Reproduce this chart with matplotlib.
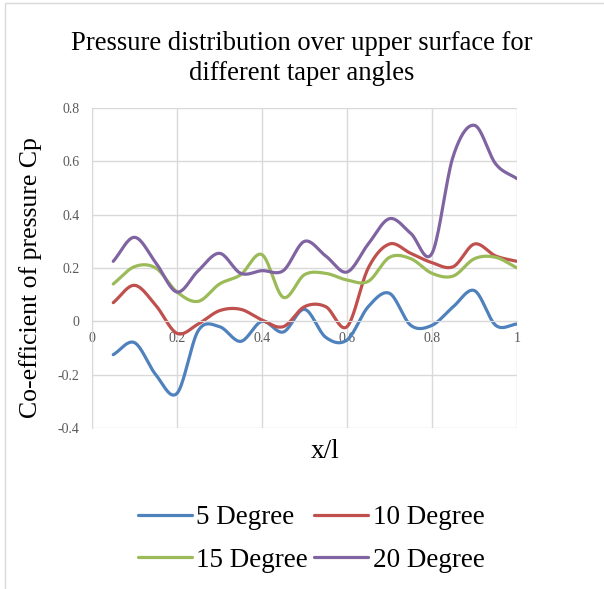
import numpy as np
import matplotlib
matplotlib.use("Agg")
import matplotlib.pyplot as plt
from matplotlib.patches import Rectangle

x = [0.05, 0.1, 0.15, 0.2, 0.25, 0.3, 0.35, 0.4, 0.45, 0.5,
     0.55, 0.6, 0.65, 0.7, 0.75, 0.8, 0.85, 0.9, 0.95, 1.0]
cp_5 = [-0.125, -0.08, -0.2, -0.27, -0.035, -0.02, -0.075, 0.0, -0.04, 0.045,
        -0.06, -0.07, 0.055, 0.105, -0.015, -0.015, 0.055, 0.115, -0.015, -0.01]
cp_10 = [0.07, 0.135, 0.06, -0.045, -0.01, 0.04, 0.045, 0.005, -0.02, 0.055,
         0.055, -0.02, 0.2, 0.29, 0.255, 0.22, 0.205, 0.29, 0.245, 0.225]
cp_15 = [0.14, 0.205, 0.2, 0.11, 0.075, 0.14, 0.175, 0.25, 0.09, 0.175,
         0.18, 0.155, 0.15, 0.24, 0.235, 0.18, 0.17, 0.235, 0.24, 0.2]
cp_20 = [0.225, 0.315, 0.22, 0.11, 0.19, 0.255, 0.18, 0.19, 0.19, 0.3,
         0.245, 0.185, 0.29, 0.385, 0.33, 0.255, 0.62, 0.735, 0.59, 0.535]
labels = ["5 Degree", "10 Degree", "15 Degree", "20 Degree"]
colors = ["#4F81BD", "#C0504D", "#9BBB59", "#8064A2"]
title = "Pressure distribution over upper surface for\ndifferent taper angles"
xticks = [0, 0.2, 0.4, 0.6, 0.8, 1]
yticks = [-0.4, -0.2, 0, 0.2, 0.4, 0.6, 0.8]


def smooth(xs, ys, n=20):
    """Catmull-Rom rendering of a smoothed line (like Excel's smoothed lines)."""
    xs = np.asarray(xs, float)
    ys = np.asarray(ys, float)
    px = np.concatenate([[2 * xs[0] - xs[1]], xs, [2 * xs[-1] - xs[-2]]])
    py = np.concatenate([[2 * ys[0] - ys[1]], ys, [2 * ys[-1] - ys[-2]]])
    ox, oy = [], []
    t = np.linspace(0, 1, n, endpoint=False)
    for i in range(1, len(px) - 2):
        p0x, p1x, p2x, p3x = px[i - 1:i + 3]
        p0y, p1y, p2y, p3y = py[i - 1:i + 3]
        t2, t3 = t * t, t * t * t
        ox.extend(0.5 * (2 * p1x + (-p0x + p2x) * t + (2 * p0x - 5 * p1x + 4 * p2x - p3x) * t2
                         + (-p0x + 3 * p1x - 3 * p2x + p3x) * t3))
        oy.extend(0.5 * (2 * p1y + (-p0y + p2y) * t + (2 * p0y - 5 * p1y + 4 * p2y - p3y) * t2
                         + (-p0y + 3 * p1y - 3 * p2y + p3y) * t3))
    ox.append(xs[-1])
    oy.append(ys[-1])
    return np.array(ox), np.array(oy)


serif = ["Liberation Serif", "DejaVu Serif"]
fig = plt.figure(figsize=(6.04, 5.89), dpi=100)
fig.patches.append(Rectangle((5 / 604, -0.1), 1.2, 1 - 3 / 589 + 0.1, transform=fig.transFigure,
                             fill=False, edgecolor="#D9D9D9", linewidth=1.0))
ax = fig.add_axes([92 / 604, 1 - 428 / 589, (517 - 92) / 604, (428 - 108) / 589])

series = [cp_5, cp_10, cp_15, cp_20]
handles = []
for ys, lab, c in zip(series, labels, colors):
    sx, sy = smooth(x, ys)
    h, = ax.plot(sx, sy, color=c, linewidth=2.3, label=lab, solid_capstyle="round")
    handles.append(h)

ax.set_xlim(0, 1)
ax.set_ylim(-0.4, 0.8)
ax.set_xticks(xticks)
ax.set_xticklabels([f"{v:g}" for v in xticks])
ax.set_yticks(yticks)
ax.set_yticklabels([f"{v:g}" for v in yticks])
ax.grid(True, color="#D9D9D9", linewidth=1.0)
ax.set_axisbelow(True)
for s in ["top", "right"]:
    ax.spines[s].set_visible(False)
ax.spines["left"].set_color("#D9D9D9")
ax.spines["bottom"].set_color("#D9D9D9")
ax.spines["bottom"].set_position(("data", 0))
ax.tick_params(axis="both", length=0, labelcolor="#595959", labelsize=10)
ax.tick_params(axis="x", pad=8)
ax.tick_params(axis="y", pad=9)
for t in ax.get_xticklabels() + ax.get_yticklabels():
    t.set_fontfamily(serif)

fig.text(0.5, 1 - 58.5 / 589, title, ha="center", va="center", fontsize=19.2,
         family=serif, linespacing=1.25)
fig.text(325 / 604, 1 - 452 / 589, "x/l", ha="center", va="center", fontsize=19.5, family=serif)
fig.text(31 / 604, 1 - 278 / 589, "Co-efficient of pressure Cp", ha="center", va="center",
         rotation=90, fontsize=18.5, family=serif)

order = [0, 2, 1, 3]
leg = fig.legend([handles[i] for i in order], [labels[i] for i in order],
                 loc="center", bbox_to_anchor=(311 / 604, 1 - 539 / 589), ncol=2,
                 frameon=False, prop={"family": serif, "size": 19.5},
                 handlelength=2.0, handletextpad=0.15, columnspacing=0.25, labelspacing=0.65)

fig.savefig("out.png", dpi=100)
